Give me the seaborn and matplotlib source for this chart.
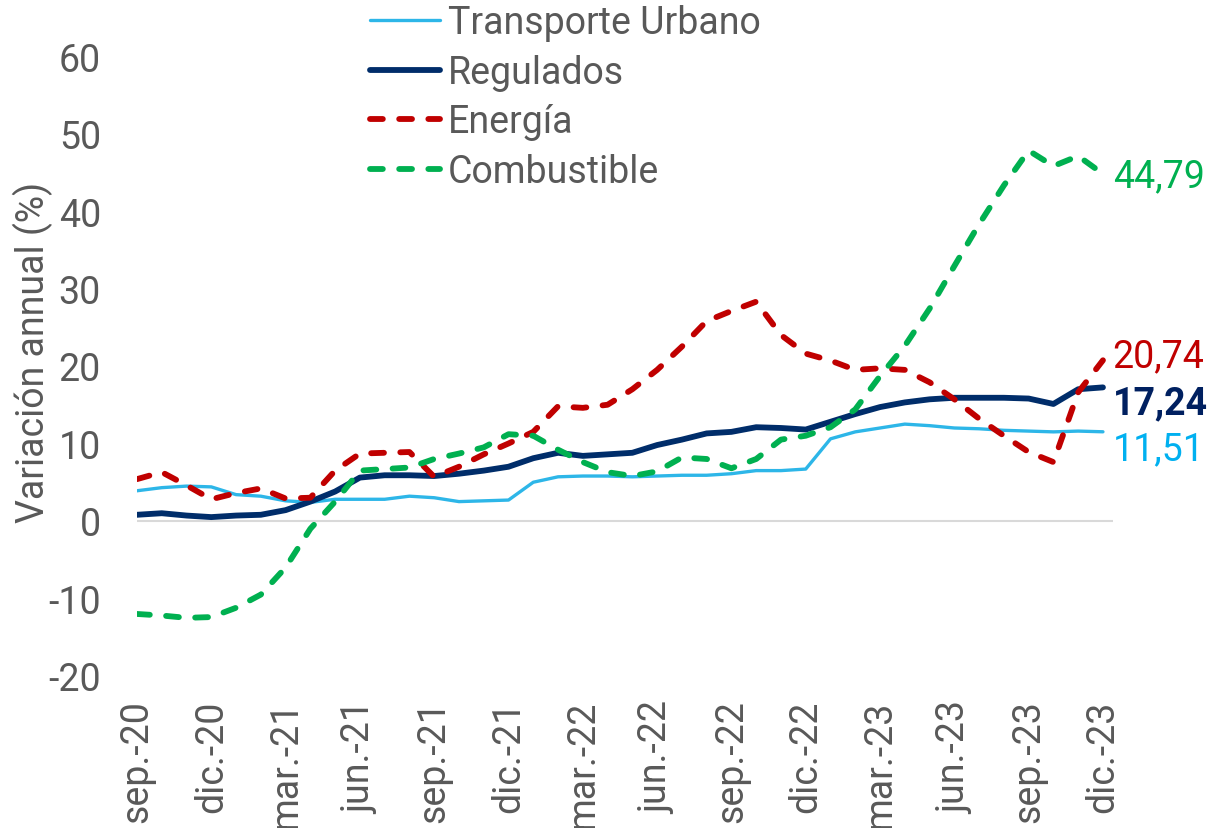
import matplotlib
matplotlib.use("Agg")
import matplotlib.pyplot as plt
import seaborn as sns
import pandas as pd

# Monthly series, sep-20 .. dec-23 (annual % change)
months = ["sep.-20", "oct.-20", "nov.-20", "dic.-20",
          "ene.-21", "feb.-21", "mar.-21", "abr.-21", "may.-21", "jun.-21",
          "jul.-21", "ago.-21", "sep.-21", "oct.-21", "nov.-21", "dic.-21",
          "ene.-22", "feb.-22", "mar.-22", "abr.-22", "may.-22", "jun.-22",
          "jul.-22", "ago.-22", "sep.-22", "oct.-22", "nov.-22", "dic.-22",
          "ene.-23", "feb.-23", "mar.-23", "abr.-23", "may.-23", "jun.-23",
          "jul.-23", "ago.-23", "sep.-23", "oct.-23", "nov.-23", "dic.-23"]

transporte = [3.9, 4.3, 4.5, 4.4, 3.4, 3.2, 2.6, 2.4, 2.8, 2.8,
              2.8, 3.2, 3.0, 2.5, 2.6, 2.7, 5.0, 5.7, 5.8, 5.8,
              5.7, 5.8, 5.9, 5.9, 6.1, 6.5, 6.5, 6.7, 10.6, 11.5,
              12.0, 12.5, 12.3, 12.0, 11.9, 11.7, 11.6, 11.5, 11.6, 11.51]

regulados = [0.8, 1.0, 0.7, 0.5, 0.7, 0.8, 1.4, 2.5, 3.8, 5.6,
             5.9, 5.9, 5.8, 6.1, 6.5, 7.0, 8.1, 8.8, 8.4, 8.6,
             8.8, 9.8, 10.5, 11.3, 11.5, 12.1, 12.0, 11.8, 12.8, 13.8,
             14.7, 15.3, 15.7, 15.9, 15.9, 15.9, 15.8, 15.1, 17.0, 17.24]

energia = [5.4, 6.3, 4.6, 2.8, 3.6, 4.2, 2.9, 3.0, 6.5, 8.7,
           8.8, 8.9, 5.7, 7.0, 8.6, 10.0, 11.5, 14.8, 14.6, 15.0,
           17.0, 19.5, 22.5, 25.8, 27.1, 28.3, 24.0, 21.6, 20.7, 19.5,
           19.7, 19.5, 17.9, 15.7, 13.2, 11.0, 8.9, 7.6, 16.6, 20.74]

combustible = [-12.0, -12.2, -12.5, -12.4, -11.2, -9.5, -6.0, -1.0, 2.5, 6.5,
               6.7, 6.9, 8.0, 8.7, 9.5, 11.2, 11.0, 9.2, 7.6, 6.3,
               5.8, 6.4, 8.2, 8.0, 6.8, 8.0, 10.5, 11.0, 12.1, 14.4,
               18.7, 22.6, 27.4, 32.9, 38.3, 43.3, 47.8, 45.8, 47.1, 44.79]

end_labels = ["11,51", "17,24", "20,74", "44,79"]

sns.set_style("white")
plt.rcParams["font.family"] = ["Roboto", "DejaVu Sans"]
gray = "#595959"
fs = 27

fig = plt.figure(figsize=(12.07, 8.29), dpi=100)
ax = fig.add_axes([0.1135, 0.1834, 0.8085, 0.7478])

x = list(range(len(months)))
ax.axhline(0, color="#D9D9D9", linewidth=1.5, zorder=0)

dash = (0, (2.2, 2.8))
series = [
    ("Transporte Urbano", transporte, "#2DB6E8", "-", 2.4),
    ("Regulados", regulados, "#002D6A", "-", 4.2),
    ("Energía", energia, "#C00000", dash, 4.2),
    ("Combustible", combustible, "#00B050", dash, 4.2),
]

for name, vals, col, ls, lw in series:
    df = pd.DataFrame({"mes": x, "valor": vals})
    sns.lineplot(data=df, x="mes", y="valor", ax=ax, color=col, linewidth=lw,
                 linestyle=ls, label=name, dash_capstyle="round",
                 solid_capstyle="round", solid_joinstyle="round")

# end-of-series value labels
label_style = [
    (transporte, "#00B0F0", "normal", -12),
    (regulados, "#002060", "bold", -11),
    (energia, "#C00000", "normal", 3),
    (combustible, "#00B050", "normal", -1),
]
for txt, (vals, col, wt, dy) in zip(end_labels, label_style):
    ax.annotate(txt, xy=(x[-1], vals[-1]), xytext=(7, dy), textcoords="offset points",
                color=col, fontsize=fs, fontweight=wt, va="center", ha="left",
                annotation_clip=False)

ax.set_xlim(0, 39.4)
ax.set_ylim(-20, 60)
ax.set_yticks(range(-20, 61, 10))
ax.set_yticklabels([str(v) for v in range(-20, 61, 10)])
ax.set_xticks(x[::3])
ax.set_xticklabels(months[::3], rotation=90)
ax.tick_params(axis="x", length=0, pad=17, labelsize=fs, labelcolor=gray)
ax.tick_params(axis="y", length=0, pad=26, labelsize=fs, labelcolor=gray)
ax.set_xlabel("")
ax.set_ylabel("")
fig.text(33 / 1207, 1 - 352 / 829, "Variación annual (%)", rotation=90,
         ha="center", va="center", fontsize=fs, color=gray)
ax.grid(False)
sns.despine(ax=ax, left=True, bottom=True)

handles, labels = ax.get_legend_handles_labels()
ax.legend_.remove()
fig.legend(handles, labels, loc="upper left", bbox_to_anchor=(0.3065, 0.994),
           frameon=False, fontsize=fs, labelcolor=gray, handlelength=1.87,
           handletextpad=0.2, labelspacing=0.34, borderpad=0, borderaxespad=0)

fig.savefig("out.png", dpi=100)
